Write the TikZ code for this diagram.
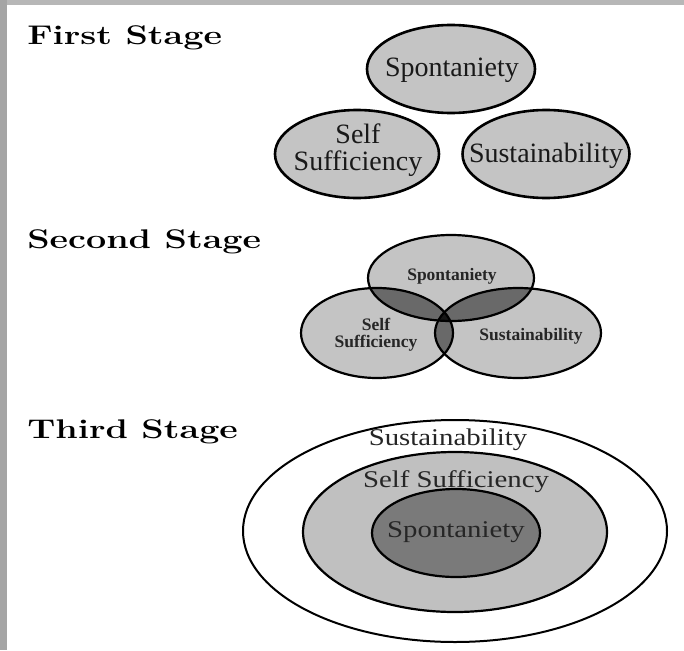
\documentclass[tikz,border=0pt]{standalone}
\usepackage{fontspec}
\newfontfamily\tms{Liberation Serif}
\usetikzlibrary{shapes.geometric}
\definecolor{framegray}{RGB}{165,165,165}
\definecolor{cellgray}{RGB}{196,196,196}
\definecolor{pairgray}{RGB}{105,105,105}
\definecolor{triplegray}{RGB}{22,22,22}
\definecolor{midgray}{RGB}{192,192,192}
\definecolor{innergray}{RGB}{122,122,122}
\begin{document}
\begin{tikzpicture}[x=1pt,y=-1pt,
  title/.style={anchor=base west, inner sep=0pt, xscale=1.33, font=\fontsize{27}{30}\selectfont\bfseries},
  blob/.style={ellipse, draw=black, line width=2.6pt, fill=cellgray, inner sep=0pt},
  vblob/.style={ellipse, fill=cellgray, inner sep=0pt},
  biglabel/.style={anchor=base, inner sep=0pt, font=\tms\fontsize{28}{27}\selectfont, align=center, text=black!90},
  smalllabel/.style={anchor=base, inner sep=0pt, font=\tms\fontsize{17.5}{17}\selectfont\bfseries, align=center, text=black!85},
  ringlabel/.style={anchor=base, inner sep=0pt, xscale=1.2, font=\tms\fontsize{24}{27}\selectfont, text=black!85},
  ring/.style={ellipse, draw=black, inner sep=0pt}]
\useasboundingbox (0,0) rectangle (684,650);
\fill[white] (0,0) rectangle (684,650);
\fill[framegray] (0,0) rectangle (7,650);
\fill[framegray!80] (7,0) rectangle (684,5);

% ---------- First stage ----------
\node[title] (t1) at (27,45) {First Stage};
\node[blob, minimum width=168pt, minimum height=88pt] (a1) at (451,69) {};
\node[blob, minimum width=164pt, minimum height=88pt] (a2) at (357,154) {};
\node[blob, minimum width=167pt, minimum height=88pt] (a3) at (546,154) {};
\node[biglabel] (la1) at (452,77) {Spontaniety};
\node[biglabel] (la2) at (358,170) {Self\\Sufficiency};
\node[biglabel] (la3) at (546,162) {Sustainability};

% ---------- Second stage ----------
\node[title] (t2) at (27,248) {Second Stage};
\node[vblob, minimum width=166pt, minimum height=86pt] (b1) at (451,278) {};
\node[vblob, minimum width=152pt, minimum height=90pt] (b2) at (377,333) {};
\node[vblob, minimum width=166pt, minimum height=90pt] (b3) at (518,333) {};
\begin{scope}
  \clip (451,278) ellipse [x radius=83pt, y radius=43pt];
  \fill[pairgray] (377,333) ellipse [x radius=76pt, y radius=45pt];
  \fill[pairgray] (518,333) ellipse [x radius=83pt, y radius=45pt];
\end{scope}
\begin{scope}
  \clip (377,333) ellipse [x radius=76pt, y radius=45pt];
  \fill[pairgray] (518,333) ellipse [x radius=83pt, y radius=45pt];
  \clip (518,333) ellipse [x radius=83pt, y radius=45pt];
  \fill[triplegray] (451,278) ellipse [x radius=83pt, y radius=43pt];
\end{scope}
\draw[line width=2.2pt] (451,278) ellipse [x radius=83pt, y radius=43pt];
\draw[line width=2.2pt] (377,333) ellipse [x radius=76pt, y radius=45pt];
\draw[line width=2.2pt] (518,333) ellipse [x radius=83pt, y radius=45pt];
\node[smalllabel] (lb1) at (452,280) {Spontaniety};
\node[smalllabel] (lb2) at (376,347) {Self\\Sufficiency};
\node[smalllabel] (lb3) at (531,340) {Sustainability};

% ---------- Third stage ----------
\node[title] (t3) at (27,438) {Third Stage};
\node[ring, line width=2pt, fill=white, minimum width=424pt, minimum height=222pt] (c1) at (455,531) {};
\node[ring, line width=2.2pt, fill=midgray, minimum width=304pt, minimum height=160pt] (c2) at (455,532) {};
\node[ring, line width=2.2pt, fill=innergray, minimum width=168pt, minimum height=88pt] (c3) at (456,533) {};
\node[ringlabel] (lc1) at (448,445) {Sustainability};
\node[ringlabel] (lc2) at (456,487) {Self Sufficiency};
\node[ringlabel] (lc3) at (456,537) {Spontaniety};
\end{tikzpicture}
\end{document}
